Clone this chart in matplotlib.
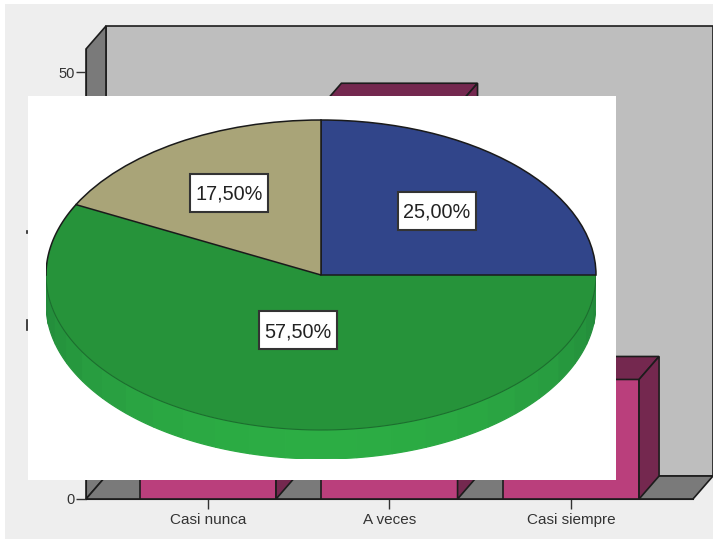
import numpy as np
import matplotlib
matplotlib.use("Agg")
import matplotlib.pyplot as plt
from matplotlib.lines import Line2D
from matplotlib.patches import Rectangle

plt.rcParams['font.family'] = ['Liberation Sans', 'DejaVu Sans']

# bar chart underneath (mostly hidden by the pasted pie)
categories = ["Casi nunca", "A veces", "Casi siempre"]
bar_values = [20, 46, 14]
y_ticks = [0, 10, 20, 30, 40, 50]

# pie on top
pie_values = [25.0, 57.5, 17.5]
pie_labels = ["25,00%", "57,50%", "17,50%"]
pie_colors = ["#31458a", "#26933a", "#a9a478"]

W, H = 713, 539


def px_axes(left, top, right, bottom, **kw):
    # axes from pixel box, y counted from the top of the image
    return fig.add_axes([left / W, 1 - bottom / H, (right - left) / W, (bottom - top) / H], **kw)


fig = plt.figure(figsize=(7.13, 5.39), dpi=100, facecolor="white")
fig.add_artist(Rectangle((5 / W, 0), 1 - 5 / W, 1 - 4 / H, transform=fig.transFigure,
                         facecolor="#eeeeee", edgecolor="none", zorder=-5))

# --- bars ---
ax = px_axes(86, 49, 693, 499)
ax.patch.set_visible(False)
ax.set_xlim(-0.672, 2.672)
ax.set_ylim(0, 52.7)
x0, x1 = ax.get_xlim()
y1 = ax.get_ylim()[1]
dx, dy = 0.11, 2.69
edge = "#1c1c1c"
wall_kw = dict(edgecolor=edge, linewidth=1.2, clip_on=False)

ax.fill([x0 + dx, x1 + dx, x1 + dx, x0 + dx], [dy, dy, y1 + dy, y1 + dy], facecolor="#bebebe", **wall_kw)
ax.fill([x0, x0 + dx, x0 + dx, x0], [0, dy, y1 + dy, y1], facecolor="#7a7a7a", **wall_kw)
ax.fill([x0, x1, x1 + dx, x0 + dx], [0, 0, dy, dy], facecolor="#7a7a7a", **wall_kw)

xpos = np.arange(len(categories))
bar_w = 0.75
ax.bar(xpos, bar_values, width=bar_w, color="#ba3f7c", edgecolor=edge, linewidth=1.2, zorder=3)
for x, v in zip(xpos, bar_values):
    l, r = x - bar_w / 2, x + bar_w / 2
    ax.fill([l, r, r + dx, l + dx], [v, v, v + dy, v + dy], facecolor="#74284f", edgecolor=edge,
            linewidth=1.2, zorder=3)
    ax.fill([r, r + dx, r + dx, r], [0, dy, v + dy, v], facecolor="#74284f", edgecolor=edge,
            linewidth=1.2, zorder=3)

for s in ["top", "right"]:
    ax.spines[s].set_visible(False)
ax.spines["left"].set_color(edge)
ax.spines["bottom"].set_color(edge)
ax.set_xticks(xpos)
ax.set_xticklabels(categories, fontsize=11, color="#333333")
ax.set_yticks(y_ticks)
ax.set_yticklabels([str(t) for t in y_ticks], fontsize=10.5, color="#333333")
ax.tick_params(axis="both", length=7, width=1, color="#333333", pad=1)
ax.tick_params(axis="x", pad=3)

# --- white box with the pie ---
fig.add_artist(Rectangle((28 / W, 1 - 480 / H), 588 / W, 384 / H, transform=fig.transFigure,
                         facecolor="white", edgecolor="none", zorder=2))

# bits of the hidden axis title that stick out left of the white box
fig.add_artist(Line2D([27 / W, 27 / W], [1 - 230.5 / H, 1 - 233 / H], color="#222222", linewidth=1.2, zorder=3))
fig.add_artist(Line2D([27 / W, 27 / W], [1 - 320 / H, 1 - 330 / H], color="#222222", linewidth=1.2, zorder=3))

depth = 29 / 155
pie_ax = px_axes(46, 120, 596, 275 + 155 + 29, zorder=3)
pie_ax.patch.set_visible(False)

# rim of the disc, brighter towards the middle
n_seg = 24
angles = np.linspace(np.pi, 2 * np.pi, n_seg + 1)
dark = np.array(matplotlib.colors.to_rgb("#22883a"))
bright = np.array(matplotlib.colors.to_rgb("#2cad44"))
for a0, a1 in zip(angles[:-1], angles[1:]):
    t = np.linspace(a0, a1, 8)
    xs = np.cos(t)
    ys = np.sin(t)
    mix = np.sin((a0 + a1) / 2 - np.pi)
    c = dark + (bright - dark) * mix
    pie_ax.fill(np.r_[xs, xs[::-1]], np.r_[ys, ys[::-1] - depth], facecolor=c, edgecolor=c,
                linewidth=0.9, zorder=0.4)

wedges, _ = pie_ax.pie(pie_values, colors=pie_colors, startangle=90, counterclock=False, radius=1,
                       wedgeprops=dict(edgecolor="#1a1a1a", linewidth=1.1))
pie_ax.set_aspect("auto")
pie_ax.set_xlim(-1, 1)
pie_ax.set_ylim(-1 - depth, 1)

# green slice: outline is soft along the front of the disc, dark only on the upper left
wedges[1].set_edgecolor("none")
wedges[1].set_zorder(0.5)
green_end = -(pie_values[1] / sum(pie_values)) * 2 * np.pi - (pie_values[0] / sum(pie_values)) * 2 * np.pi + np.pi / 2
t = np.linspace(0, -np.pi, 200)
pie_ax.plot(np.cos(t), np.sin(t), color="#1c6e2e", linewidth=0.8, zorder=0.6)
t = np.linspace(-np.pi, green_end, 40)
pie_ax.plot(np.cos(t), np.sin(t), color="#1a1a1a", linewidth=1.1, zorder=0.6)

label_xy = [(0.422, 0.416), (-0.084, -0.355), (-0.334, 0.532)]
box_w, box_h = 78 / 275, 38 / 155
for (lx, ly), txt in zip(label_xy, pie_labels):
    pie_ax.add_patch(Rectangle((lx - box_w / 2, ly - box_h / 2), box_w, box_h, facecolor="white",
                               edgecolor="#333333", linewidth=1.5, zorder=9))
    pie_ax.text(lx, ly - 0.01, txt, fontsize=14.3, color="#222222", ha="center", va="center", zorder=10)

fig.savefig("out.png", dpi=100)
